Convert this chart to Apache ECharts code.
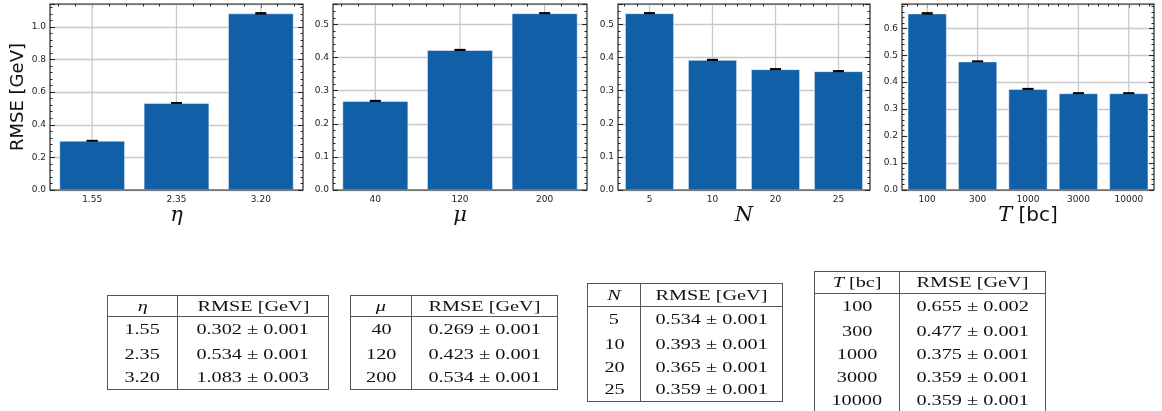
<!DOCTYPE html>
<html>
<head>
<meta charset="utf-8">
<title>RMSE</title>
<script src="https://cdn.jsdelivr.net/npm/echarts@6/dist/echarts.min.js"></script>
<style>
  html, body { margin: 0; padding: 0; background: #fff; overflow: hidden; }
  #box { position: absolute; left: 0; top: 0; width: 1162px; height: 411px; }
  .tbl { position: absolute; border-collapse: collapse; table-layout: fixed;
         font-family: 'Liberation Serif', serif; font-size: 15px; color: #111;
         border: 1px solid #555; }
  .tbl td { padding: 0; text-align: center; white-space: nowrap; }
  .tbl td.c1 { border-right: 1px solid #555; }
  .tbl tr.head td { border-bottom: 1px solid #555; }
  .tbl span { display: inline-block; transform: scaleX(1.35); }
</style>
</head>
<body>
<div id="box"></div>
<script>
// values
const etaCats = ['1.55', '2.35', '3.20']
const etaRmse = [0.302, 0.534, 1.083]
const etaErr = [0.001, 0.001, 0.003]

const muCats = ['40', '120', '200']
const muRmse = [0.269, 0.423, 0.534]
const muErr = [0.001, 0.001, 0.001]

const nCats = ['5', '10', '20', '25']
const nRmse = [0.534, 0.393, 0.365, 0.359]
const nErr = [0.001, 0.001, 0.001, 0.001]

const tCats = ['100', '300', '1000', '3000', '10000']
const tRmse = [0.655, 0.477, 0.375, 0.359, 0.359]
const tErr = [0.002, 0.001, 0.001, 0.001, 0.001]

const panels = [
  {cats: etaCats, vals: etaRmse, errs: etaErr, interval: 0.2, name: '{m|η}', head: '<i>η</i>'},
  {cats: muCats, vals: muRmse, errs: muErr, interval: 0.1, name: '{m|μ}', head: '<i>μ</i>'},
  {cats: nCats, vals: nRmse, errs: nErr, interval: 0.1, name: '{m|N}', head: '<i>N</i>'},
  {cats: tCats, vals: tRmse, errs: tErr, interval: 0.1, name: '{m|T}{t| [bc]}', head: '<i>T</i> [bc]'}
]

// layout of the plot boxes and the tables below them
const boxes = [[50, 253], [333, 254], [618, 252], [902, 252]]
const tblLayout = [
  {left: 107, top: 295, width: 222, col1: 70, head: 21, rows: [26, 23, 24]},
  {left: 350, top: 295, width: 208, col1: 61, head: 21, rows: [26, 23, 24]},
  {left: 587, top: 283, width: 196, col1: 53, head: 23, rows: [26, 23, 23, 23]},
  {left: 814, top: 271, width: 232, col1: 85, head: 22, rows: [26, 23, 23, 23, 24]}
]

const ink = '#262626'
const gridCol = '#c9c9c9'
const barCol = '#105fa7'

// error bars with caps
function errItem(params, api) {
  const i = api.value(0), v = api.value(1), e = api.value(2)
  const lo = api.coord([i, v - e])
  const hi = api.coord([i, v + e])
  const half = 5.5
  const style = {stroke: '#000', lineWidth: 1.5}
  return {
    type: 'group',
    children: [
      {type: 'line', shape: {x1: lo[0], y1: lo[1], x2: hi[0], y2: hi[1]}, style: style},
      {type: 'line', shape: {x1: lo[0] - half, y1: lo[1], x2: lo[0] + half, y2: lo[1]}, style: style},
      {type: 'line', shape: {x1: hi[0] - half, y1: hi[1], x2: hi[0] + half, y2: hi[1]}, style: style}
    ]
  }
}

// vertical grid line through each category centre, behind the bars
function vGridItem(params, api) {
  const p = api.coord([api.value(0), 0])
  const top = params.coordSys.y
  return {
    type: 'line',
    shape: {x1: p[0], y1: p[1], x2: p[0], y2: top},
    style: {stroke: gridCol, lineWidth: 1.3}
  }
}

const grid = [], xAxis = [], yAxis = [], series = []
panels.forEach((p, k) => {
  const n = p.cats.length
  const yMax = Math.max(...p.vals.map((v, i) => v + p.errs[i])) * 1.05
  const minor = []
  for (let j = -2; j <= 5 * (n - 1) + 2; j++) if (j % 5 !== 0) minor.push(j / 5)

  grid.push({
    left: boxes[k][0], top: 4, width: boxes[k][1], height: 186,
    show: true, borderColor: ink, borderWidth: 1.2, backgroundColor: 'transparent', z: 10
  })

  xAxis.push({
    type: 'category', gridIndex: k, data: p.cats, position: 'bottom',
    axisLine: {show: false, onZero: false}, axisTick: {show: false},
    axisLabel: {fontSize: 9, color: '#222', margin: 5, fontFamily: 'DejaVu Sans'},
    splitLine: {show: false},
    name: p.name, nameLocation: 'middle', nameGap: 14,
    nameTextStyle: {
      rich: {
        m: {fontFamily: 'DejaVu Serif', fontStyle: 'italic', fontSize: 21, color: '#111'},
        t: {fontFamily: 'DejaVu Sans', fontSize: 20, color: '#111'}
      }
    }
  })
  // mirrored ticks on the top edge
  xAxis.push({
    type: 'value', gridIndex: k, position: 'top', min: -0.5, max: n - 0.5,
    axisLine: {show: false, onZero: false}, axisLabel: {show: false}, splitLine: {show: false},
    axisTick: {show: true, inside: true, length: 4, customValues: p.cats.map((c, i) => i), lineStyle: {color: ink}}
  })
  xAxis.push({
    type: 'value', gridIndex: k, position: 'top', min: -0.5, max: n - 0.5,
    axisLine: {show: false, onZero: false}, axisLabel: {show: false}, splitLine: {show: false},
    axisTick: {show: true, inside: true, length: 2.5, customValues: minor, lineStyle: {color: ink}}
  })

  const fmt = v => Math.abs(v / p.interval - Math.round(v / p.interval)) < 1e-6 ? v.toFixed(1) : ''
  yAxis.push({
    type: 'value', gridIndex: k, position: 'left', min: 0, max: yMax, interval: p.interval,
    axisLine: {show: false, onZero: false},
    axisTick: {show: true, inside: true, length: 5, lineStyle: {color: ink}},
    minorTick: {show: true, splitNumber: 5, length: 2.5, lineStyle: {color: ink}},
    axisLabel: {fontSize: 9, color: '#222', margin: 4, fontFamily: 'DejaVu Sans', formatter: fmt},
    splitLine: {show: true, lineStyle: {color: gridCol, width: 1.3}},
    name: k === 0 ? 'RMSE [GeV]' : '', nameLocation: 'middle', nameGap: 21,
    nameTextStyle: {fontFamily: 'DejaVu Sans', fontSize: 18, color: '#111'}
  })
  yAxis.push({
    type: 'value', gridIndex: k, position: 'right', min: 0, max: yMax, interval: p.interval,
    axisLine: {show: false, onZero: false},
    axisTick: {show: true, inside: true, length: 5, lineStyle: {color: ink}},
    minorTick: {show: true, splitNumber: 5, length: 2.5, lineStyle: {color: ink}},
    axisLabel: {show: false}, splitLine: {show: false}
  })

  series.push({
    type: 'custom', xAxisIndex: 3 * k, yAxisIndex: 2 * k, z: 1, silent: true,
    data: p.cats.map((c, i) => [i]),
    renderItem: vGridItem
  })
  series.push({
    type: 'bar', xAxisIndex: 3 * k, yAxisIndex: 2 * k, data: p.vals, barWidth: '78%', z: 2,
    itemStyle: {color: barCol, borderColor: 'rgba(255,255,255,0.45)', borderWidth: 1}
  })
  series.push({
    type: 'custom', xAxisIndex: 3 * k, yAxisIndex: 2 * k, z: 3,
    data: p.vals.map((v, i) => [i, v, p.errs[i]]),
    renderItem: errItem
  })
})

const myChart = echarts.init(document.getElementById('box'))
myChart.setOption({animation: false, grid, xAxis, yAxis, series})

// tables below the plots
panels.forEach((p, k) => {
  const L = tblLayout[k]
  const t = document.createElement('table')
  t.className = 'tbl'
  t.style.left = L.left + 'px'
  t.style.top = L.top + 'px'
  t.style.width = L.width + 'px'
  let html = '<colgroup><col style="width:' + L.col1 + 'px"><col></colgroup>'
  html += '<tr class="head" style="height:' + L.head + 'px"><td class="c1"><span>' + p.head +
    '</span></td><td><span>RMSE [GeV]</span></td></tr>'
  p.cats.forEach((c, i) => {
    html += '<tr style="height:' + L.rows[i] + 'px"><td class="c1"><span>' + c + '</span></td><td><span>' +
      p.vals[i].toFixed(3) + ' ± ' + p.errs[i].toFixed(3) + '</span></td></tr>'
  })
  t.innerHTML = html
  document.body.appendChild(t)
})
</script>
</body>
</html>
